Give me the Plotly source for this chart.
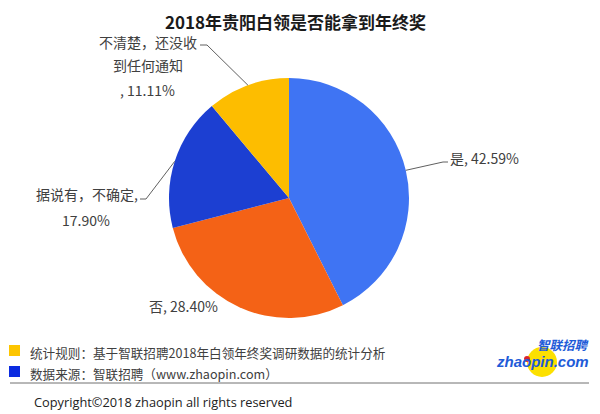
import math
import plotly.graph_objects as go

# ---- data ----
categories = ["是", "否", "据说有，不确定,", "不清楚，还没收到任何通知"]
values = [42.59, 28.40, 17.90, 11.11]
colors = ["#3F74F3", "#F46216", "#1C3FD2", "#FDBD00"]
title = "2018年贵阳白领是否能拿到年终奖"
note_rule = "统计规则：基于智联招聘2018年白领年终奖调研数据的统计分析"
note_source = "数据来源：智联招聘（www.zhaopin.com）"
copyright_text = "Copyright©2018 zhaopin all rights reserved"

W, H = 600, 414
CX, CY, R = 289, 198, 120  # pie centre / radius in pixels

FONT = "Noto Sans CJK SC"
TXT = "#404040"


def px(x):
    return x / W


def py(y):
    return 1 - y / H


fig = go.Figure()
fig.add_trace(go.Pie(
    labels=categories, values=values, sort=False, direction="clockwise",
    rotation=0, marker=dict(colors=colors, line=dict(width=0)),
    textinfo="none", hoverinfo="label+percent", showlegend=False,
    domain=dict(x=[px(CX - R), px(CX + R)], y=[py(CY + R), py(CY - R)]),
))

# edge points of each slice's mid angle (computed from the values)
total = sum(values)
edges = []
cum = 0
for v in values:
    mid = (cum + v / 2) / total * 2 * math.pi
    edges.append((CX + R * math.sin(mid), CY - R * math.cos(mid)))
    cum += v

pct = [f"{v:.2f}%" for v in values]

ann = []
shapes = []


def text(x, y, s, size=14, anchor="center", color=TXT, bold=False, family=FONT):
    ann.append(dict(x=px(x), y=py(y), xref="paper", yref="paper", text=(f"<b>{s}</b>" if bold else s),
                    showarrow=False, xanchor=anchor, yanchor="middle",
                    font=dict(family=family, size=size, color=color)))


def line(points, color="#606060", width=1):
    path = "M " + " L ".join(f"{px(x)},{py(y)}" for x, y in points)
    shapes.append(dict(type="path", path=path, xref="paper", yref="paper",
                       line=dict(color=color, width=width)))


# title
text(295, 21, title, size=17, bold=True, color="#1a1a1a")

# 是
text(448, 158, f"{categories[0]}, {pct[0]}", anchor="left")
line([edges[0], (443, 162), (448, 162)])

# 否
text(183, 306, f"{categories[1]}, {pct[1]}")

# 据说有
text(87, 194, categories[2])
text(86, 220, pct[2])
line([edges[2], (146, 199), (140, 199)])

# 不清楚
text(148, 42, "不清楚，还没收")
text(148, 65, "到任何通知")
text(147, 90, f", {pct[3]}")
line([edges[3], (207, 45), (200, 45)])

# footer notes
shapes.append(dict(type="rect", xref="paper", yref="paper", x0=px(9), x1=px(20), y0=py(356), y1=py(345),
                   fillcolor="#FDC500", line=dict(width=0)))
shapes.append(dict(type="rect", xref="paper", yref="paper", x0=px(9), x1=px(20), y0=py(377), y1=py(366),
                   fillcolor="#0B2BE0", line=dict(width=0)))
text(28, 352, note_rule, size=12.6, anchor="left")
text(28, 373, note_source, size=12.6, anchor="left")
shapes.append(dict(type="line", xref="paper", yref="paper", x0=px(10), x1=px(589), y0=py(383), y1=py(383),
                   line=dict(color="#707070", width=1)))
text(32, 402, copyright_text, size=12.8, anchor="left", color="#222222", family="Open Sans")

# logo
shapes.append(dict(type="circle", xref="paper", yref="paper", x0=px(527), x1=px(557), y0=py(377), y1=py(347),
                   fillcolor="#FCE000", line=dict(width=0)))
shapes.append(dict(type="circle", xref="paper", yref="paper", x0=px(524), x1=px(530), y0=py(362), y1=py(356),
                   fillcolor="#D8262C", line=dict(width=0)))
text(563, 344, "<i>智联招聘</i>", size=12.5, color="#1E5BD8", bold=True)
text(542, 361, "<i>zhaopin.com</i>", size=15, color="#1E5BD8", bold=True, family="Liberation Sans")

fig.update_layout(
    width=W, height=H, margin=dict(l=0, r=0, t=0, b=0),
    paper_bgcolor="white", plot_bgcolor="white",
    annotations=ann, shapes=shapes,
)
fig.write_html("out.html", config={"displayModeBar": False},
               post_script="document.body.style.margin='0px';")
